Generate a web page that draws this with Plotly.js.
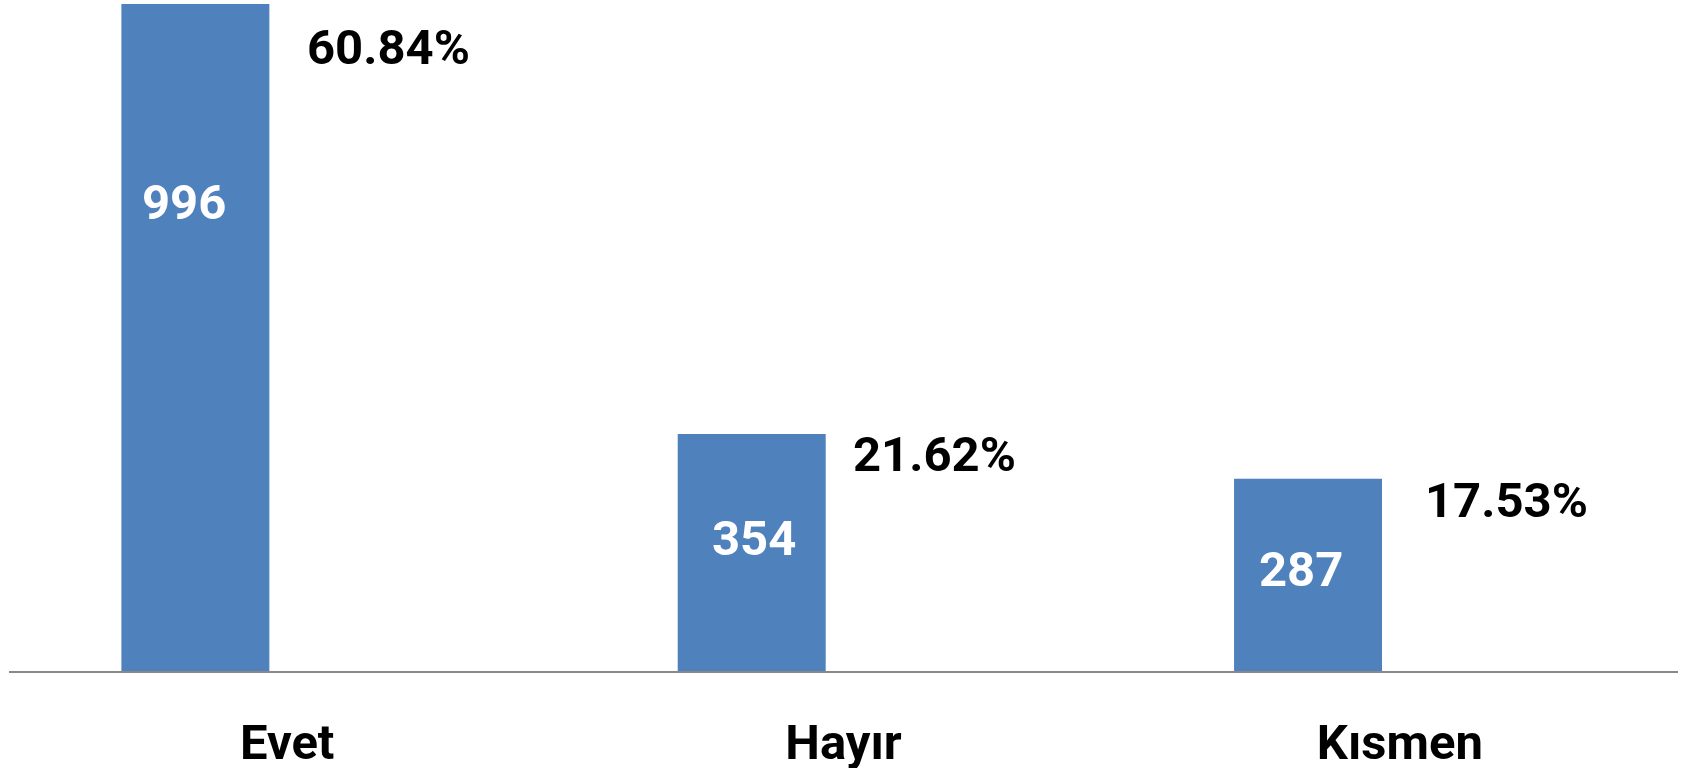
<!DOCTYPE html>
<html>
<head>
<meta charset="utf-8">
<script src="https://cdn.plot.ly/plotly-3.0.1.min.js"></script>
<style>html,body{margin:0;padding:0;background:#fff;}#chart{width:1689px;height:768px;}</style>
</head>
<body>
<div id="chart"></div>
<script>
// Data
const categories = ["Evet", "Hayır", "Kısmen"];
const counts = [996, 354, 287];
const percents = ["60.84%", "21.62%", "17.53%"];

// Label placement (pixel shifts, styling only)
const pctShiftX = [101, 91, 107];
const pctShiftY = [-43, -21, -22];
const cntShiftX = [-103, -90, -99];
const cntShiftY = [-198, -105, -91];

const FONT = "Roboto, 'Open Sans', sans-serif";

const trace = {
  type: "bar",
  x: categories,
  y: counts,
  offset: -0.298,
  width: 0.266,
  marker: {color: "#4F81BD", line: {width: 0}},
  hoverinfo: "x+y"
};

const annotations = [];
categories.forEach((c, i) => {
  annotations.push({
    xref: "x", yref: "y", x: c, y: counts[i],
    text: percents[i], showarrow: false,
    xanchor: "center", yanchor: "middle",
    xshift: pctShiftX[i], yshift: pctShiftY[i],
    font: {family: FONT, size: 49, color: "#000000", weight: "bold"}
  });
  annotations.push({
    xref: "x", yref: "y", x: c, y: counts[i],
    text: String(counts[i]), showarrow: false,
    xanchor: "center", yanchor: "middle",
    xshift: cntShiftX[i], yshift: cntShiftY[i],
    font: {family: FONT, size: 49, color: "#FFFFFF", weight: "bold"}
  });
});

const layout = {
  width: 1689, height: 768,
  margin: {l: 9, r: 11, t: 0, b: 97, pad: 0},
  paper_bgcolor: "#ffffff", plot_bgcolor: "#ffffff",
  showlegend: false,
  xaxis: {
    type: "category",
    range: [-0.5, 2.5],
    showline: true, linecolor: "#898989", linewidth: 2,
    showgrid: false, zeroline: false,
    ticks: "", ticklabelstandoff: 27,
    tickfont: {family: FONT, size: 49, color: "#000000", weight: "bold"},
    fixedrange: true
  },
  yaxis: {
    range: [0, 1002],
    visible: false, showgrid: false, zeroline: false,
    fixedrange: true
  },
  annotations: annotations
};

Plotly.newPlot("chart", [trace], layout, {displayModeBar: false, staticPlot: true});
</script>
</body>
</html>
